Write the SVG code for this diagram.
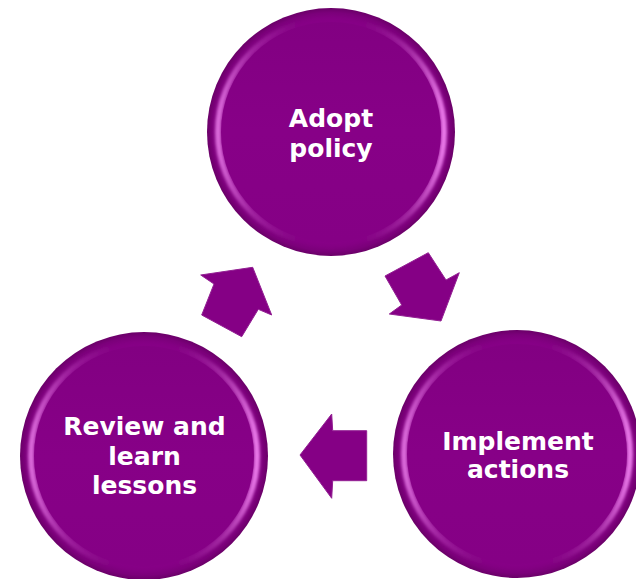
<svg xmlns="http://www.w3.org/2000/svg" width="636" height="579" viewBox="0 0 636 579">
<defs>
<radialGradient id="rim" cx="0.5" cy="0.5" r="0.5">
<stop offset="0" stop-color="#850085"/>
<stop offset="0.88" stop-color="#850085"/>
<stop offset="0.96" stop-color="#7c007b"/>
<stop offset="1" stop-color="#6a0068"/>
</radialGradient>
<linearGradient id="bevel" x1="0" y1="0" x2="1" y2="0">
<stop offset="0" stop-color="#e070e0" stop-opacity="0.95"/>
<stop offset="0.15" stop-color="#c850c8" stop-opacity="0.45"/>
<stop offset="0.35" stop-color="#a020a0" stop-opacity="0.12"/>
<stop offset="0.65" stop-color="#a020a0" stop-opacity="0.12"/>
<stop offset="0.85" stop-color="#d060d0" stop-opacity="0.45"/>
<stop offset="1" stop-color="#f080f0" stop-opacity="0.95"/>
</linearGradient>
<linearGradient id="face" x1="0" y1="0" x2="0" y2="1">
<stop offset="0" stop-color="#820082"/>
<stop offset="0.5" stop-color="#870087"/>
<stop offset="1" stop-color="#850085"/>
</linearGradient>
<filter id="soft" x="-10%" y="-10%" width="120%" height="120%">
<feGaussianBlur stdDeviation="1.6"/>
</filter>
</defs>
<style>
.outer{fill:url(#rim);}
.bev{fill:none;stroke:url(#bevel);stroke-width:6;filter:url(#soft);}
.face{fill:url(#face);}
.lbl{font-family:"DejaVu Sans",sans-serif;font-weight:bold;font-size:25px;fill:#ffffff;text-anchor:middle;}
.arrow{fill:#850085;stroke:#932093;stroke-width:1;stroke-linejoin:miter;}
</style>
<rect width="636" height="579" fill="#ffffff"/>
<g id="connectors">
<path class="arrow" d="M252.7,267.3 L271.7,315 L258.3,309.3 L241.7,336.7 L201.7,315 L214,284 L200.7,275 Z"/>
<path class="arrow" d="M441,321 L389.3,314 L401.7,305 L385,276 L428.3,252.7 L446,280 L459.3,272.7 Z"/>
<path class="arrow" d="M300,455 L331.7,414 L332.7,430.7 L366.7,430.7 L366.7,480.7 L332.7,480.7 L331.7,498.3 Z"/>
</g>
<g id="node-adopt">
<circle class="outer" cx="331" cy="132" r="124"/>
<circle class="bev" cx="331" cy="132" r="113"/>
<circle class="face" cx="331" cy="132" r="110"/>
<text class="lbl" x="331" y="127">Adopt</text>
<text class="lbl" x="331" y="156.5">policy</text>
</g>
<g id="node-implement">
<circle class="outer" cx="517" cy="454" r="124"/>
<circle class="bev" cx="517" cy="454" r="113"/>
<circle class="face" cx="517" cy="454" r="110"/>
<text class="lbl" x="518" y="449.5">Implement</text>
<text class="lbl" x="518" y="478">actions</text>
</g>
<g id="node-review">
<circle class="outer" cx="144" cy="456" r="124"/>
<circle class="bev" cx="144" cy="456" r="113"/>
<circle class="face" cx="144" cy="456" r="110"/>
<text class="lbl" x="144.5" y="434.5">Review and</text>
<text class="lbl" x="144.5" y="464.5">learn</text>
<text class="lbl" x="144.5" y="494">lessons</text>
</g>
</svg>
